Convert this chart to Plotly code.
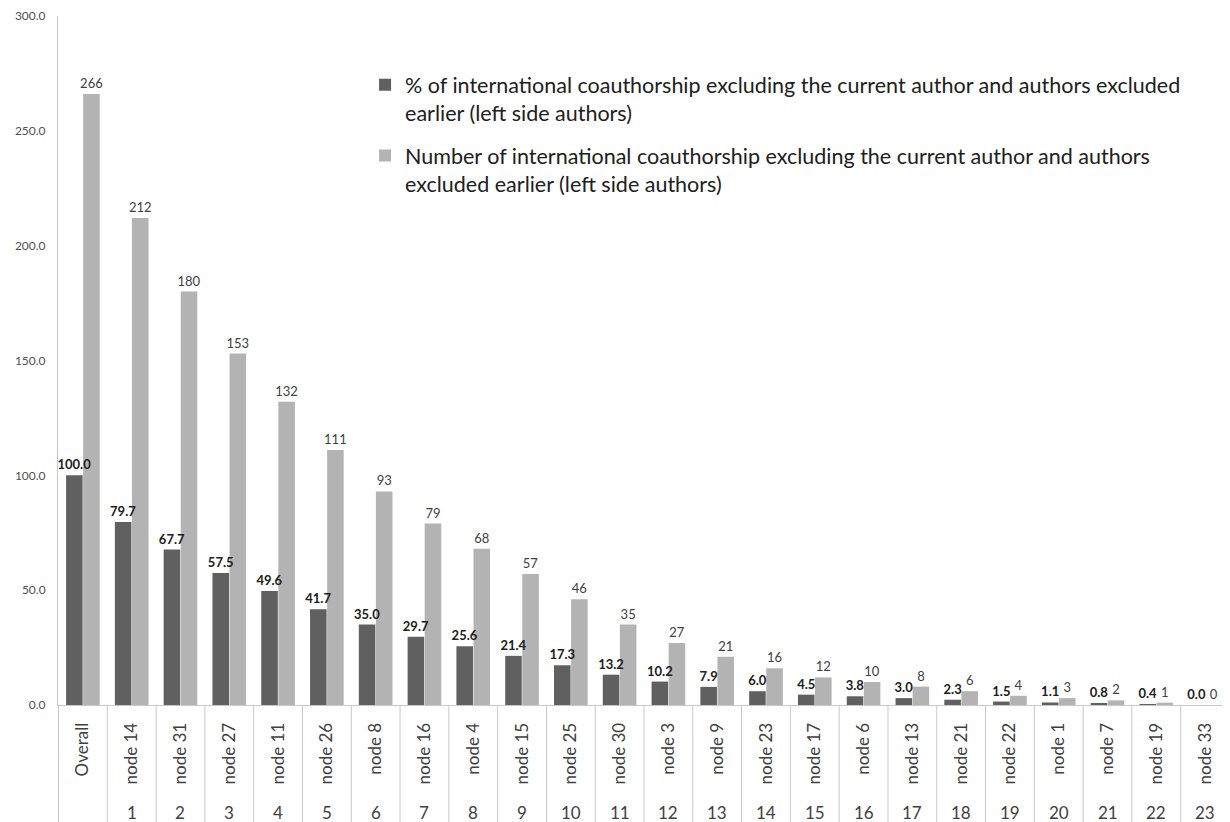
import plotly.graph_objects as go

categories = ["Overall", "node 14", "node 31", "node 27", "node 11", "node 26", "node 8",
              "node 16", "node 4", "node 15", "node 25", "node 30", "node 3", "node 9",
              "node 23", "node 17", "node 6", "node 13", "node 21", "node 22", "node 1",
              "node 7", "node 19", "node 33"]
ranks = ["", "1", "2", "3", "4", "5", "6", "7", "8", "9", "10", "11", "12", "13", "14",
         "15", "16", "17", "18", "19", "20", "21", "22", "23"]
pct_values = [100.0, 79.7, 67.7, 57.5, 49.6, 41.7, 35.0, 29.7, 25.6, 21.4, 17.3, 13.2,
              10.2, 7.9, 6.0, 4.5, 3.8, 3.0, 2.3, 1.5, 1.1, 0.8, 0.4, 0.0]
count_values = [266, 212, 180, 153, 132, 111, 93, 79, 68, 57, 46, 35, 27, 21, 16, 12,
                10, 8, 6, 4, 3, 2, 1, 0]
y_ticks = [0, 50, 100, 150, 200, 250, 300]

name1 = "% of international coauthorship excluding the current author and authors excluded<br>earlier (left side authors)"
name2 = "Number of international coauthorship excluding the current author and authors<br>excluded earlier (left side authors)"

FONT = "Lato"
TXT = "#404040"
GRID = "#c8c8c8"

fig = go.Figure()
fig.add_trace(go.Bar(
    x=categories, y=pct_values, name=name1, offsetgroup="a", legendgroup="a",
    marker=dict(color="#606060", line=dict(width=0)),
))
fig.add_trace(go.Bar(
    x=categories, y=count_values, name=name2, offsetgroup="b", legendgroup="b",
    marker=dict(color="#b3b3b3", line=dict(width=0)),
    text=[str(v) for v in count_values], texttemplate="%{text}", textposition="outside",
    textfont=dict(size=13, color="#404040", family=FONT),
    constraintext="none", cliponaxis=False,
))
# label layer for the first series, drawn on top of the second series
fig.add_trace(go.Bar(
    x=categories, y=pct_values, name=name1, offsetgroup="a", showlegend=False,
    marker=dict(color="rgba(0,0,0,0)", line=dict(width=0)),
    text=[f"{v:.1f}" for v in pct_values], texttemplate="<b>%{text}</b>",
    textposition="outside",
    textfont=dict(size=13, color="#202020", family=FONT),
    constraintext="none", cliponaxis=False, hoverinfo="skip",
))

shapes = []
n = len(categories)
for i in range(n + 1):
    shapes.append(dict(type="line", xref="x", yref="paper", x0=i - 0.5, x1=i - 0.5,
                       y0=0, y1=-0.17, line=dict(color=GRID, width=1)))
annotations = []
for c, r in zip(categories, ranks):
    if r:
        annotations.append(dict(x=c, xref="x", y=-0.156, yref="paper", text=r,
                                showarrow=False, yanchor="middle",
                                font=dict(size=17, color=TXT, family=FONT)))

fig.update_layout(
    width=1222, height=814,
    margin=dict(l=50, r=0, t=6, b=117),
    paper_bgcolor="white", plot_bgcolor="white",
    barmode="group", bargap=0.3, bargroupgap=0.03,
    font=dict(family=FONT, color=TXT),
    showlegend=True,
    legend=dict(x=0.262, y=0.93, xanchor="left", yanchor="top",
                font=dict(size=21.5, color="#202020", family=FONT),
                valign="top", tracegroupgap=12, bgcolor="rgba(0,0,0,0)",
                traceorder="grouped"),
    shapes=shapes, annotations=annotations,
    xaxis=dict(type="category", showgrid=False, showline=True, linecolor=GRID,
               tickangle=-90, ticks="", tickfont=dict(size=17, color=TXT, family=FONT),
               ticklabelstandoff=10),
    yaxis=dict(range=[0, 300], tickvals=y_ticks, tickformat=".1f", showgrid=False,
               showline=True, linecolor=GRID, ticks="", zeroline=False,
               ticklabelstandoff=9, ticklabeloverflow="allow",
               tickfont=dict(size=12, color="#505050", family=FONT)),
)
fig.write_html("out.html")
